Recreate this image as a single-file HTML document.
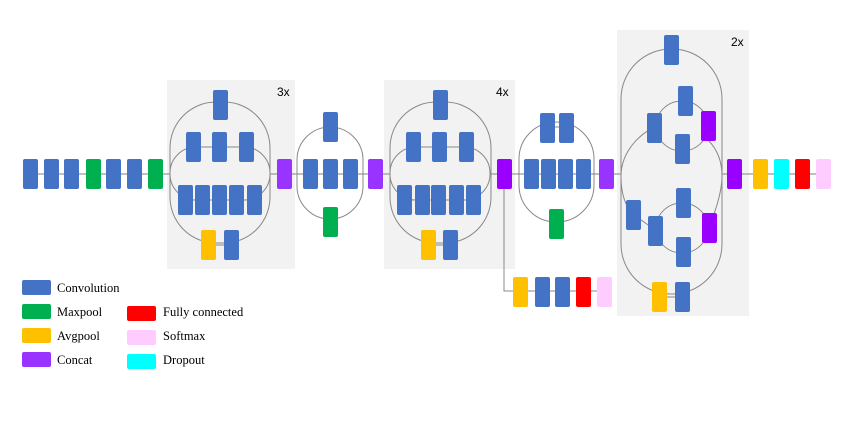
<!DOCTYPE html>
<html><head><meta charset="utf-8"><style>
html,body{margin:0;padding:0;background:#fff;}
svg{display:block}
text{font-family:"Liberation Sans",sans-serif}
.l{font-family:"Liberation Serif",serif;font-size:12.5px;fill:#000}
.b{fill:#4472c4}.g{fill:#00b050}.y{fill:#ffc000}.p{fill:#9933ff}.q{fill:#9900ff}.r{fill:#ff0000}.k{fill:#ffccff}.c{fill:#00ffff}
.s{fill:none;stroke:#888;stroke-width:1}
.m{stroke:#999;stroke-width:1.2}
</style></head><body>
<svg width="850" height="427" viewBox="0 0 850 427" xmlns="http://www.w3.org/2000/svg">
<rect x="167" y="80" width="128" height="189" fill="#f2f2f2"/>
<rect x="384" y="80" width="131" height="189" fill="#f2f2f2"/>
<rect x="617" y="30" width="132" height="286" fill="#f2f2f2"/>
<text x="277" y="96" font-size="12">3x</text>
<text x="496" y="96" font-size="12">4x</text>
<text x="731" y="46" font-size="12">2x</text>

<!-- main line segments -->
<line class="m" x1="30" y1="174" x2="170" y2="174"/>
<line class="m" x1="270" y1="174" x2="390" y2="174"/>
<line class="m" x1="491" y1="174" x2="621" y2="174"/>
<line class="m" x1="722" y1="174" x2="823" y2="174"/>

<rect class="s" x="170" y="102" width="100" height="141" rx="46"/>
<rect class="s" x="170" y="147" width="100" height="53" rx="26"/>
<line class="s" x1="193" y1="147" x2="246" y2="147"/>
<line class="s" x1="185" y1="200" x2="254" y2="200"/>
<line class="s" x1="208" y1="245" x2="231" y2="245"/>
<rect class="s" x="297" y="127" width="66" height="92" rx="33"/>
<rect class="s" x="390" y="102" width="101" height="141" rx="46"/>
<rect class="s" x="390" y="147" width="100" height="53" rx="26"/>
<line class="s" x1="413" y1="147" x2="466" y2="147"/>
<line class="s" x1="404" y1="200" x2="473" y2="200"/>
<line class="s" x1="428" y1="245" x2="450" y2="245"/>
<rect class="s" x="519" y="122" width="75" height="100" rx="37"/>
<line class="s" x1="547" y1="127" x2="567" y2="127"/>
<polyline class="s" points="504,189 504,291 612,291"/>
<rect class="s" x="621" y="49" width="101" height="245" rx="50"/>
<path class="s" d="M654,127 C630,140 621,160 621,176 C621,190 624,205 633,214"/>
<path class="s" d="M708,140 C718,150 722,162 722,176 C722,192 716,210 709,227"/>
<ellipse class="s" cx="682" cy="126" rx="26" ry="25"/>
<ellipse class="s" cx="682" cy="228" rx="26" ry="25"/>
<line class="s" x1="633" y1="214" x2="655" y2="230"/>
<line class="s" x1="659" y1="297" x2="682" y2="297"/>

<rect class="b" x="23" y="159" width="15" height="30" rx="2"/>
<rect class="b" x="44" y="159" width="15" height="30" rx="2"/>
<rect class="b" x="64" y="159" width="15" height="30" rx="2"/>
<rect class="g" x="86" y="159" width="15" height="30" rx="2"/>
<rect class="b" x="106" y="159" width="15" height="30" rx="2"/>
<rect class="b" x="127" y="159" width="15" height="30" rx="2"/>
<rect class="g" x="148" y="159" width="15" height="30" rx="2"/>

<rect class="b" x="213" y="90" width="15" height="30" rx="2"/>
<rect class="b" x="186" y="132" width="15" height="30" rx="2"/>
<rect class="b" x="212" y="132" width="15" height="30" rx="2"/>
<rect class="b" x="239" y="132" width="15" height="30" rx="2"/>
<rect class="b" x="178" y="185" width="15" height="30" rx="2"/>
<rect class="b" x="195" y="185" width="15" height="30" rx="2"/>
<rect class="b" x="212" y="185" width="15" height="30" rx="2"/>
<rect class="b" x="229" y="185" width="15" height="30" rx="2"/>
<rect class="b" x="247" y="185" width="15" height="30" rx="2"/>
<rect class="y" x="201" y="230" width="15" height="30" rx="2"/>
<rect class="b" x="224" y="230" width="15" height="30" rx="2"/>
<rect class="p" x="277" y="159" width="15" height="30" rx="2"/>

<rect class="b" x="323" y="112" width="15" height="30" rx="2"/>
<rect class="b" x="303" y="159" width="15" height="30" rx="2"/>
<rect class="b" x="323" y="159" width="15" height="30" rx="2"/>
<rect class="b" x="343" y="159" width="15" height="30" rx="2"/>
<rect class="g" x="323" y="207" width="15" height="30" rx="2"/>
<rect class="p" x="368" y="159" width="15" height="30" rx="2"/>

<rect class="b" x="433" y="90" width="15" height="30" rx="2"/>
<rect class="b" x="406" y="132" width="15" height="30" rx="2"/>
<rect class="b" x="432" y="132" width="15" height="30" rx="2"/>
<rect class="b" x="459" y="132" width="15" height="30" rx="2"/>
<rect class="b" x="397" y="185" width="15" height="30" rx="2"/>
<rect class="b" x="415" y="185" width="15" height="30" rx="2"/>
<rect class="b" x="431" y="185" width="15" height="30" rx="2"/>
<rect class="b" x="449" y="185" width="15" height="30" rx="2"/>
<rect class="b" x="466" y="185" width="15" height="30" rx="2"/>
<rect class="y" x="421" y="230" width="15" height="30" rx="2"/>
<rect class="b" x="443" y="230" width="15" height="30" rx="2"/>
<rect class="q" x="497" y="159" width="15" height="30" rx="2"/>

<rect class="y" x="513" y="277" width="15" height="30" rx="2"/>
<rect class="b" x="535" y="277" width="15" height="30" rx="2"/>
<rect class="b" x="555" y="277" width="15" height="30" rx="2"/>
<rect class="r" x="576" y="277" width="15" height="30" rx="2"/>
<rect class="k" x="597" y="277" width="15" height="30" rx="2"/>

<rect class="b" x="540" y="113" width="15" height="30" rx="2"/>
<rect class="b" x="559" y="113" width="15" height="30" rx="2"/>
<rect class="b" x="524" y="159" width="15" height="30" rx="2"/>
<rect class="b" x="541" y="159" width="15" height="30" rx="2"/>
<rect class="b" x="558" y="159" width="15" height="30" rx="2"/>
<rect class="b" x="576" y="159" width="15" height="30" rx="2"/>
<rect class="g" x="549" y="209" width="15" height="30" rx="2"/>
<rect class="p" x="599" y="159" width="15" height="30" rx="2"/>

<rect class="b" x="664" y="35" width="15" height="30" rx="2"/>
<rect class="b" x="678" y="86" width="15" height="30" rx="2"/>
<rect class="b" x="647" y="113" width="15" height="30" rx="2"/>
<rect class="b" x="675" y="134" width="15" height="30" rx="2"/>
<rect class="q" x="701" y="111" width="15" height="30" rx="2"/>
<rect class="b" x="626" y="200" width="15" height="30" rx="2"/>
<rect class="b" x="648" y="216" width="15" height="30" rx="2"/>
<rect class="b" x="676" y="188" width="15" height="30" rx="2"/>
<rect class="b" x="676" y="237" width="15" height="30" rx="2"/>
<rect class="q" x="702" y="213" width="15" height="30" rx="2"/>
<rect class="y" x="652" y="282" width="15" height="30" rx="2"/>
<rect class="b" x="675" y="282" width="15" height="30" rx="2"/>

<rect class="q" x="727" y="159" width="15" height="30" rx="2"/>
<rect class="y" x="753" y="159" width="15" height="30" rx="2"/>
<rect class="c" x="774" y="159" width="15" height="30" rx="2"/>
<rect class="r" x="795" y="159" width="15" height="30" rx="2"/>
<rect class="k" x="816" y="159" width="15" height="30" rx="2"/>

<rect class="b" x="22" y="280" width="29" height="15" rx="2"/>
<text class="l" x="57" y="292">Convolution</text>
<rect class="g" x="22" y="304" width="29" height="15" rx="2"/>
<text class="l" x="57" y="316">Maxpool</text>
<rect class="y" x="22" y="328" width="29" height="15" rx="2"/>
<text class="l" x="57" y="340">Avgpool</text>
<rect class="p" x="22" y="352" width="29" height="15" rx="2"/>
<text class="l" x="57" y="364">Concat</text>
<rect class="r" x="127" y="306" width="29" height="15" rx="2"/>
<text class="l" x="163" y="316">Fully connected</text>
<rect class="k" x="127" y="330" width="29" height="15" rx="2"/>
<text class="l" x="163" y="340">Softmax</text>
<rect class="c" x="127" y="354" width="29" height="15" rx="2"/>
<text class="l" x="163" y="364">Dropout</text>
</svg>
</body></html>
